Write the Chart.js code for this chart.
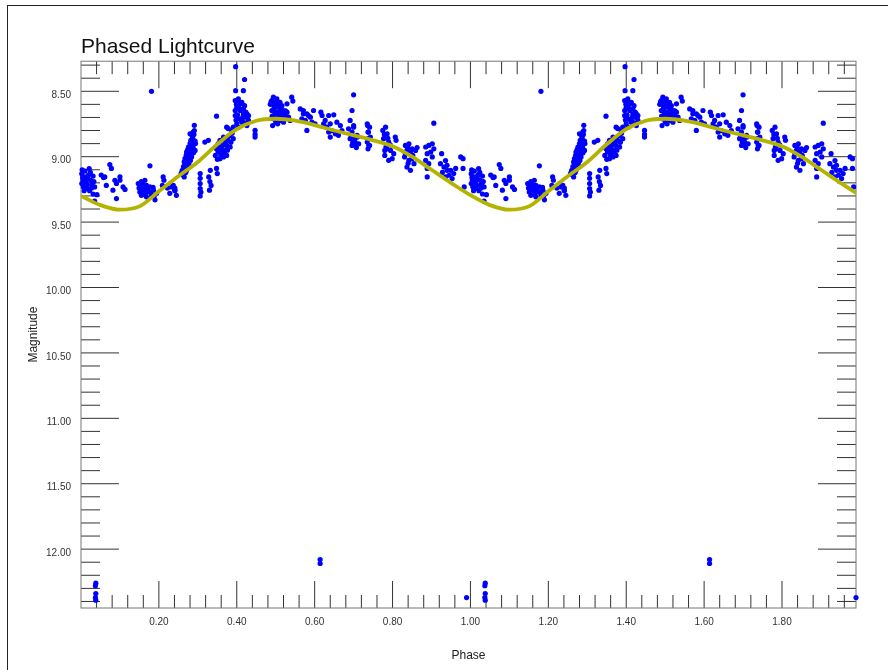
<!DOCTYPE html>
<html>
<head>
<meta charset="utf-8">
<title>Phased Lightcurve</title>
<script src="https://cdn.jsdelivr.net/npm/chart.js@4.4.1/dist/chart.umd.min.js"></script>
<style>
body { margin: 0; background: #fff; }
#wrap { position: relative; width: 888px; height: 670px; overflow: hidden; }
#edge { position: absolute; left: 7px; top: 5px; width: 900px; height: 700px; border-left: 1px solid #222; border-top: 1px solid #222; pointer-events: none; }
</style>
</head>
<body>
<div id="wrap">
	<canvas id="chart1" width="888" height="670"></canvas>
	<div id="edge"></div>
</div>
<script>
//phased lightcurve -> observed magnitudes folded on one cycle, shown twice (phase 0-2)

//observations for one cycle, [phase, magnitude]
var observations = [
	//phase 0.00 - 0.12
	[0.002, 9.13], [0.005, 9.18], [0.009, 9.155], [0.014, 9.205], [0.021, 9.091], [0.025, 9.18],
	[0.031, 9.148], [0.035, 9.231], [0.014, 9.243], [0.002, 9.205], [0.010, 9.11], [0.018, 9.17],
	[0.028, 9.21], [0.006, 9.23], [0.031, 9.285], [0.041, 9.29], [0.035, 9.34], [0.052, 9.14],
	[0.004, 9.16], [0.012, 9.19], [0.019, 9.14], [0.024, 9.12], [0.027, 9.24], [0.008, 9.26],
	[0.016, 9.22], [0.033, 9.19], [0.003, 9.10], [0.022, 9.26],
	[0.058, 9.16], [0.061, 9.155], [0.074, 9.06], [0.078, 9.09], [0.065, 9.22], [0.082, 9.256],
	[0.091, 9.205], [0.100, 9.155], [0.100, 9.18], [0.108, 9.231], [0.113, 9.25], [0.087, 9.18],
	[0.091, 9.32], [0.181, 8.50], [0.177, 9.07],
	//phase 0.14 - 0.25
	[0.147, 9.205], [0.155, 9.19], [0.164, 9.18], [0.168, 9.22], [0.160, 9.245], [0.151, 9.27],
	[0.177, 9.231], [0.186, 9.256], [0.194, 9.28], [0.155, 9.295], [0.168, 9.307], [0.181, 9.295],
	[0.190, 9.33], [0.149, 9.24], [0.173, 9.27], [0.159, 9.21], [0.185, 9.235], [0.211, 9.155],
	[0.153, 9.23], [0.162, 9.26], [0.171, 9.25], [0.179, 9.27], [0.188, 9.30], [0.165, 9.29],
	[0.213, 9.18], [0.209, 9.22], [0.222, 9.24], [0.233, 9.231], [0.241, 9.256], [0.228, 9.28],
	[0.245, 9.295], [0.237, 9.22], [0.241, 9.24], [0.241, 9.26],
	//rising branch 0.25 - 0.30
	[0.257, 9.129], [0.260, 9.104], [0.263, 9.075], [0.265, 9.04], [0.267, 9.015], [0.270, 8.99],
	[0.271, 8.965], [0.274, 8.945], [0.276, 8.926], [0.280, 8.90], [0.282, 8.875], [0.286, 8.845],
	[0.288, 8.812], [0.291, 8.76], [0.294, 8.90], [0.293, 8.952], [0.284, 9.002], [0.277, 9.053],
	[0.271, 9.104], [0.265, 9.155], [0.280, 8.952], [0.288, 8.93], [0.267, 9.065], [0.276, 9.002],
	[0.284, 8.977], [0.280, 8.825], [0.291, 8.80], [0.262, 9.14], [0.270, 9.03], [0.278, 8.96],
	[0.286, 8.92], [0.259, 9.12], [0.264, 9.09], [0.268, 9.05], [0.272, 9.00], [0.275, 8.97],
	[0.279, 8.93], [0.283, 8.89], [0.287, 8.86], [0.290, 8.83], [0.273, 9.07], [0.281, 9.03],
	[0.289, 8.97], [0.293, 8.88], [0.269, 9.12], [0.285, 8.94],
	//faint strings 0.30 - 0.35
	[0.306, 9.129], [0.306, 9.165], [0.306, 9.205], [0.306, 9.243], [0.308, 9.27], [0.306, 9.30],
	[0.328, 9.155], [0.331, 9.19], [0.334, 9.22], [0.330, 9.256], [0.332, 9.104], [0.348, 9.09],
	[0.350, 9.129],
	//phase 0.34 - 0.40
	[0.348, 8.94], [0.352, 8.901], [0.357, 8.875], [0.361, 8.977], [0.366, 9.002], [0.370, 8.952],
	[0.374, 8.914], [0.378, 8.875], [0.383, 8.837], [0.387, 8.80], [0.391, 8.774], [0.361, 8.926],
	[0.352, 8.964], [0.374, 8.99], [0.383, 8.926], [0.370, 8.888], [0.357, 9.015], [0.391, 8.862],
	[0.378, 8.785], [0.366, 8.85], [0.345, 8.99], [0.362, 8.95], [0.374, 8.774], [0.348, 8.69],
	[0.327, 8.875], [0.318, 8.888], [0.355, 8.93], [0.365, 8.91], [0.372, 8.86], [0.380, 8.84],
	[0.385, 8.89], [0.368, 8.97], [0.359, 8.99], [0.388, 8.82], [0.376, 8.95], [0.350, 9.02],
	//phase 0.39 - 0.45
	[0.396, 8.571], [0.404, 8.558], [0.413, 8.584], [0.400, 8.622], [0.409, 8.647], [0.417, 8.635],
	[0.426, 8.672], [0.396, 8.685], [0.404, 8.71], [0.413, 8.736], [0.421, 8.698], [0.430, 8.723],
	[0.400, 8.749], [0.409, 8.596], [0.417, 8.672], [0.396, 8.647], [0.426, 8.762], [0.404, 8.774],
	[0.420, 8.61], [0.430, 8.685], [0.397, 8.312], [0.397, 8.495], [0.417, 8.495], [0.420, 8.41],
	[0.399, 8.60], [0.407, 8.63], [0.415, 8.70], [0.423, 8.66], [0.402, 8.68], [0.411, 8.72],
	[0.398, 8.72], [0.419, 8.74], [0.428, 8.70], [0.406, 8.58],
	[0.447, 8.799], [0.447, 8.83], [0.447, 8.85],
	//maximum 0.48 - 0.55
	[0.490, 8.571], [0.494, 8.545], [0.498, 8.596], [0.503, 8.558], [0.507, 8.622], [0.490, 8.647],
	[0.498, 8.672], [0.507, 8.66], [0.516, 8.61], [0.520, 8.647], [0.494, 8.71], [0.503, 8.698],
	[0.511, 8.723], [0.524, 8.685], [0.529, 8.66], [0.533, 8.698], [0.537, 8.723], [0.492, 8.762],
	[0.505, 8.749], [0.520, 8.736], [0.529, 8.596], [0.496, 8.622], [0.511, 8.584], [0.486, 8.60],
	[0.500, 8.735], [0.541, 8.545], [0.544, 8.575], [0.488, 8.58], [0.493, 8.60], [0.501, 8.58],
	[0.509, 8.60], [0.513, 8.64], [0.497, 8.65], [0.505, 8.68], [0.515, 8.67], [0.525, 8.65],
	[0.491, 8.69], [0.509, 8.70], [0.518, 8.70],
	//phase 0.56 - 0.67
	[0.563, 8.635], [0.571, 8.647], [0.580, 8.672], [0.589, 8.698], [0.597, 8.647], [0.567, 8.71],
	[0.576, 8.723], [0.584, 8.685], [0.593, 8.736], [0.580, 8.799], [0.601, 8.749], [0.571, 8.672],
	[0.616, 8.66], [0.619, 8.685], [0.636, 8.685], [0.649, 8.68], [0.627, 8.723], [0.640, 8.749],
	[0.657, 8.736], [0.666, 8.762], [0.631, 8.774], [0.644, 8.80], [0.653, 8.825], [0.661, 8.837],
	[0.636, 8.812], [0.623, 8.749], [0.670, 8.80], [0.640, 8.85],
	//phase 0.68 - 0.75
	[0.700, 8.527], [0.696, 8.647], [0.691, 8.723], [0.700, 8.762], [0.687, 8.787], [0.696, 8.812],
	[0.709, 8.837], [0.691, 8.862], [0.704, 8.888], [0.713, 8.901], [0.696, 8.914], [0.707, 8.93],
	[0.700, 8.774], [0.710, 8.85], [0.736, 8.762], [0.738, 8.812], [0.737, 8.862], [0.739, 8.914],
	[0.737, 8.94], [0.735, 8.749], [0.741, 8.774], [0.737, 8.812], [0.743, 8.85], [0.735, 8.888],
	[0.741, 8.914], [0.694, 8.84], [0.703, 8.86], [0.698, 8.89], [0.706, 8.91],
	//phase 0.77 - 0.81
	[0.775, 8.799], [0.782, 8.774], [0.786, 8.825], [0.777, 8.862], [0.790, 8.888], [0.783, 8.926],
	[0.795, 8.952], [0.803, 8.977], [0.780, 8.99], [0.807, 8.85], [0.809, 8.875], [0.790, 9.028],
	[0.799, 9.015], [0.780, 8.952], [0.779, 8.83], [0.788, 8.86], [0.794, 8.91], [0.785, 8.94],
	//phase 0.83 - 0.91
	[0.833, 8.914], [0.842, 8.901], [0.837, 8.952], [0.850, 8.94], [0.859, 8.952], [0.863, 8.93],
	[0.831, 9.002], [0.842, 9.028], [0.850, 9.015], [0.837, 9.079], [0.846, 9.104], [0.855, 9.053],
	[0.833, 8.977], [0.885, 8.926], [0.893, 8.914], [0.902, 8.901], [0.889, 8.977], [0.898, 8.964],
	[0.906, 8.94], [0.885, 9.028], [0.893, 9.053], [0.902, 9.002], [0.889, 9.09], [0.906, 8.744],
	[0.889, 9.155], [0.839, 8.93], [0.846, 8.96], [0.852, 8.99], [0.840, 9.05],
	//phase 0.92 - 0.99
	[0.926, 8.977], [0.936, 9.03], [0.923, 9.053], [0.932, 9.079], [0.940, 9.066], [0.949, 9.104],
	[0.957, 9.129], [0.928, 9.12], [0.945, 9.142], [0.953, 9.167], [0.936, 9.155], [0.962, 9.09],
	[0.940, 9.104], [0.975, 9.002], [0.981, 9.015], [0.981, 9.09], [0.984, 9.231],
	//faint outliers
	[0.038, 12.26], [0.037, 12.28], [0.038, 12.34], [0.037, 12.37], [0.038, 12.39],
	[0.614, 12.08], [0.614, 12.11], [0.990, 12.37]
];

//fitted model curve, read every 0.05 in phase
var curvePhase = [0.00, 0.05, 0.10, 0.15, 0.20, 0.25, 0.30, 0.35, 0.40, 0.45, 0.50,
	0.55, 0.60, 0.65, 0.70, 0.75, 0.80, 0.85, 0.90, 0.95, 1.00];
var curveMag = [9.30, 9.37, 9.405, 9.38, 9.265, 9.15, 9.04, 8.905, 8.79, 8.725, 8.71,
	8.725, 8.758, 8.80, 8.837, 8.875, 8.92, 9.00, 9.10, 9.20, 9.294];

//labelled ticks
var xTickValues = [0.2, 0.4, 0.6, 0.8, 1.0, 1.2, 1.4, 1.6, 1.8];
var yTickValues = [8.5, 9.0, 9.5, 10.0, 10.5, 11.0, 11.5, 12.0];

var phaseMin = 0;
var phaseMax = 1.99;
var magMin = 8.27;
var magMax = 12.45;

Chart.defaults.font.family = "'Liberation Sans', Arial, sans-serif";

//build the two plotted cycles
var pointData = [];
for (var c = 0; c < 2; c++) {
	for (var i = 0; i < observations.length; i++) {
		var p = observations[i][0] + c;
		if (p <= phaseMax + 0.005) {
			pointData.push({x: p, y: observations[i][1]});
		}
	}
}
var curveData = [];
for (var c = 0; c < 2; c++) {
	for (var i = 0; i < curvePhase.length; i++) {
		if (c == 1 && i == 0) continue;
		curveData.push({x: curvePhase[i] + c, y: curveMag[i]});
	}
}

//inside tick marks on all four sides, like the original plot
var frameTicks = {
	id: 'frameTicks',
	beforeDatasetsDraw: function(chart) {
		var ctx = chart.ctx;
		var a = chart.chartArea;
		var xs = chart.scales.x;
		var ys = chart.scales.y;
		ctx.save();
		ctx.lineWidth = 1;
		ctx.strokeStyle = '#333';
		ctx.beginPath();
		//phase ticks every 0.04, long every 0.2
		for (var k = 1; k * 0.04 < phaseMax; k++) {
			var px = xs.getPixelForValue(k * 0.04);
			var len = (k % 5 == 0) ? 27 : 13;
			ctx.moveTo(px, a.top); ctx.lineTo(px, a.top + len);
			ctx.moveTo(px, a.bottom); ctx.lineTo(px, a.bottom - len);
		}
		//magnitude ticks every 0.1, long every 0.5
		for (var m = 83; m <= 124; m++) {
			var py = ys.getPixelForValue(m / 10);
			var ylen = (m % 5 == 0) ? 38 : 19;
			ctx.moveTo(a.left, py); ctx.lineTo(a.left + ylen, py);
			ctx.moveTo(a.right, py); ctx.lineTo(a.right - ylen, py);
		}
		ctx.stroke();
		ctx.strokeStyle = '#777';
		ctx.strokeRect(a.left, a.top, a.right - a.left, a.bottom - a.top);
		ctx.restore();
	}
};

var ctx = document.getElementById('chart1');

var chart = new Chart(ctx, {
	type: 'scatter',
	data: {
		datasets: [
			{
				type: 'line',
				label: 'Model',
				data: curveData,
				borderColor: '#b3b300',
				borderWidth: 3.8,
				pointRadius: 0,
				cubicInterpolationMode: 'monotone',
				order: 0
			},
			{
				label: 'Observations',
				data: pointData,
				backgroundColor: '#0000ff',
				borderWidth: 0,
				pointRadius: 2.6,
				clip: false,
				order: 1
			}
		]
	},
	plugins: [frameTicks],
	options: {
		responsive: false,
		animation: false,
		devicePixelRatio: 1,
		layout: { padding: { left: 0, right: 32, top: 0, bottom: 0 } },
		plugins: {
			legend: { display: false },
			tooltip: { enabled: false },
			title: {
				display: true,
				text: 'Phased Lightcurve',
				align: 'start',
				fullSize: false,
				color: '#111',
				font: { size: 21, weight: 'normal' },
				padding: { top: 35, bottom: 1 }
			}
		},
		scales: {
			x: {
				type: 'linear',
				min: phaseMin,
				max: phaseMax,
				grid: { display: false, tickLength: 0 },
				border: { display: false },
				afterBuildTicks: function(s) {
					s.ticks = xTickValues.map(function(v) { return {value: v}; });
				},
				afterFit: function(s) { s.height = 62; },
				ticks: {
					color: '#333',
					font: { size: 10 },
					padding: 8,
					maxRotation: 0,
					autoSkip: false,
					callback: function(v) { return Number(v).toFixed(2); }
				},
				title: {
					display: true,
					text: 'Phase',
					color: '#222',
					font: { size: 12 },
					padding: { top: 0, bottom: 7 }
				}
			},
			y: {
				type: 'linear',
				reverse: true,
				min: magMin,
				max: magMax,
				grid: { display: false, tickLength: 0 },
				border: { display: false },
				afterBuildTicks: function(s) {
					s.ticks = yTickValues.map(function(v) { return {value: v}; });
				},
				afterFit: function(s) { s.width = 81; },
				ticks: {
					color: '#333',
					font: { size: 10 },
					padding: 10,
					labelOffset: 4,
					autoSkip: false,
					callback: function(v) { return Number(v).toFixed(2); }
				},
				title: {
					display: true,
					text: 'Magnitude',
					color: '#222',
					font: { size: 12 },
					padding: { top: 26, bottom: 0 }
				}
			}
		}
	}
});
</script>
</body>
</html>
